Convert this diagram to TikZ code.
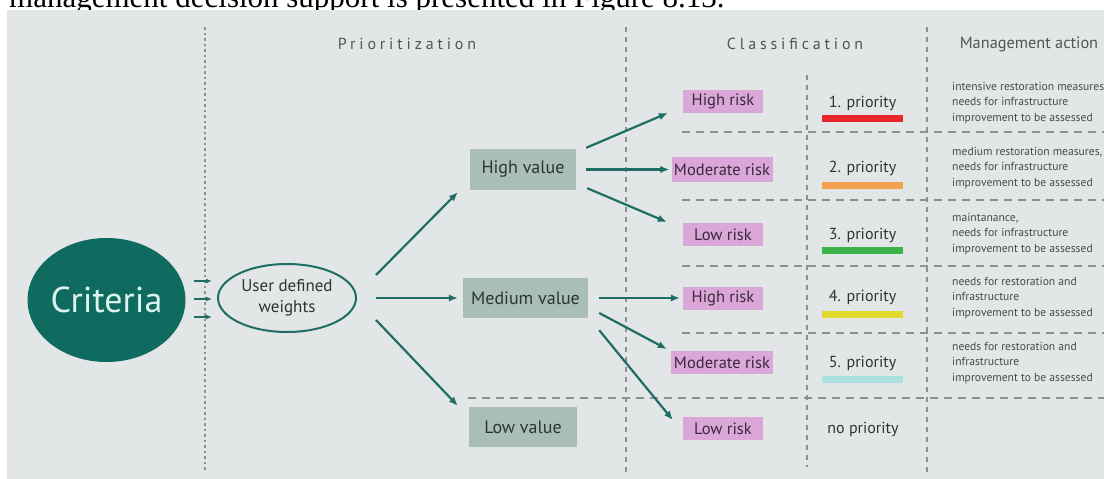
\documentclass[tikz,border=0pt]{standalone}
\usepackage{fontspec}
\setmainfont{PT Sans}
\newfontfamily\capfont{Liberation Serif}
\usetikzlibrary{arrows.meta,shapes.geometric}
\definecolor{bgc}{HTML}{E2E6E6}
\definecolor{critc}{HTML}{0F6B5F}
\definecolor{crittxt}{HTML}{DDF3EE}
\definecolor{arrc}{HTML}{1F6E66}
\definecolor{valc}{HTML}{A9BDB9}
\definecolor{pinkc}{HTML}{DBA6D8}
\definecolor{txtc}{HTML}{2E3434}
\definecolor{risktxt}{HTML}{3A2A3C}
\definecolor{acttxt}{HTML}{464A4A}
\definecolor{hdrc}{HTML}{505454}
\definecolor{dashc}{HTML}{8C9292}
\definecolor{p1c}{HTML}{E8262B}
\definecolor{p2c}{HTML}{F5A24C}
\definecolor{p3c}{HTML}{3CB44B}
\definecolor{p4c}{HTML}{E3D82E}
\definecolor{p5c}{HTML}{A9E2DF}
\tikzset{
 critnode/.style={ellipse, fill=critc, inner sep=0, minimum width=141pt, minimum height=124pt, text=crittxt, font=\fontsize{36}{40}\selectfont},
 weightnode/.style={ellipse, draw=arrc, line width=2pt, inner sep=0, minimum width=138pt, minimum height=68pt, align=center, text=txtc, font=\fontsize{17}{21}\selectfont},
 valbox/.style={fill=valc, inner sep=0, minimum height=41pt, text=txtc, font=\fontsize{18}{20}\selectfont},
 riskbox/.style={fill=pinkc, inner sep=0, minimum height=23pt, text=risktxt, font=\fontsize{16.5}{18}\selectfont},
 prio/.style={inner sep=0, text=txtc, font=\fontsize{16}{18}\selectfont},
 pbar/.style={inner sep=0, minimum width=81pt, minimum height=7pt},
 acttext/.style={inner sep=0, anchor=west, align=left, text=acttxt, font=\fontsize{11.6}{15.5}\selectfont},
 hdrtext/.style={inner sep=0, text=hdrc, font=\fontsize{16}{18}\selectfont\addfontfeature{LetterSpace=24}},
 linkarrow/.style={draw=arrc, line width=2.2pt, -{Latex[length=9pt,width=7.5pt]}},
 critarrow/.style={draw=arrc, line width=1.4pt, -{Latex[length=6pt,width=5pt]}},
 vdot/.style={draw=dashc, line width=1.3pt, dash pattern=on 2.5pt off 3pt},
 vdash/.style={draw=dashc, line width=1.3pt, dash pattern=on 5pt off 5pt},
 hdash/.style={draw=dashc, line width=1.5pt, dash pattern=on 8pt off 6pt},
}
\begin{document}
\begin{tikzpicture}[x=1pt,y=-1pt]
\useasboundingbox (0,0) rectangle (1104,479);
\clip (0,0) rectangle (1104,479);
\fill[white] (0,0) rectangle (1104,479);
\node[anchor=base west, inner sep=0, font=\capfont\fontsize{31}{34}\selectfont] (cap) at (9,7.5) {management decision support is presented in Figure 8.13.};
\fill[bgc] (7,10) rectangle (1104,479);

% column separators
\draw[vdot] (205,27) -- (205,472);
\draw[vdash] (626,27) -- (626,472);
\draw[vdash] (807,75) -- (807,467);
\draw[vdash] (927,27) -- (927,472);
% row separators
\draw[hdash] (682,132) -- (1104,132);
\draw[hdash] (682,200) -- (1104,200);
\draw[hdash] (682,266) -- (1104,266);
\draw[hdash] (682,333) -- (1104,333);
\draw[hdash] (468,398) -- (1104,398);

% headers
\node[hdrtext] (h1) at (407,44) {Prioritization};
\node[hdrtext] (h2) at (795,44) {Classification};
\node[inner sep=0, text=hdrc, font=\fontsize{16.3}{18}\selectfont] (h3) at (1029,44) {Management action};

% main nodes
\node[critnode] (cr) at (106.5,300) {Criteria};
\node[weightnode] (uw) at (287,298) {User defined\\weights};
\node[valbox, minimum width=106pt] (hv) at (523,169.5) {High value};
\node[valbox, minimum width=125pt, minimum height=40pt] (mv) at (525.5,298) {Medium value};
\node[valbox, minimum width=108pt, minimum height=40pt] (lv) at (523,427) {Low value};

\node[riskbox, minimum width=80pt] (hr1) at (723,101.5) {High risk};
\node[riskbox, minimum width=101pt, minimum height=25pt] (mr1) at (722,169.5) {Moderate risk};
\node[riskbox, minimum width=80pt] (lr1) at (723,234.5) {Low risk};
\node[riskbox, minimum width=80pt] (hr2) at (723,298) {High risk};
\node[riskbox, minimum width=102pt] (mr2) at (722,362.5) {Moderate risk};
\node[riskbox, minimum width=80pt] (lr2) at (723,428.5) {Low risk};

% priorities
\node[prio] (pr1) at (862.5,103) {1. priority};
\node[pbar, fill=p1c] (b1) at (862.5,118.5) {};
\node[prio] (pr2) at (862.5,168) {2. priority};
\node[pbar, fill=p2c] (b2) at (862.5,185) {};
\node[prio] (pr3) at (862.5,235) {3. priority};
\node[pbar, fill=p3c] (b3) at (862.5,250.5) {};
\node[prio] (pr4) at (862.5,297) {4. priority};
\node[pbar, fill=p4c] (b4) at (862.5,314.5) {};
\node[prio] (pr5) at (862.5,363) {5. priority};
\node[pbar, fill=p5c] (b5) at (862.5,379.5) {};
\node[prio] (pr6) at (863,429) {no priority};

% management actions
\node[acttext] (a1) at (952,103) {intensive restoration measures\\needs for infrastructure\\improvement to be assessed};
\node[acttext] (a2) at (952,168) {medium restoration measures,\\needs for infrastructure\\improvement to be assessed};
\node[acttext] (a3) at (952,234) {maintanance,\\needs for infrastructure\\improvement to be assessed};
\node[acttext] (a4) at (952,298) {needs for restoration and\\infrastructure\\improvement to be assessed};
\node[acttext] (a5) at (952,363) {needs for restoration and\\infrastructure\\improvement to be assessed};

% connectors
\draw[critarrow] ([xshift=8pt,yshift=19pt]cr.east) -- ([xshift=-5pt,yshift=17pt]uw.west);
\draw[critarrow] ([xshift=8pt,yshift=1pt]cr.east) -- ([xshift=-5pt,yshift=-1pt]uw.west);
\draw[critarrow] ([xshift=8pt,yshift=-17pt]cr.east) -- ([xshift=-5pt,yshift=-19pt]uw.west);

\draw[linkarrow] ([xshift=19pt,yshift=23pt]uw.east) -- ([xshift=-12pt,yshift=-2pt]hv.south west);
\draw[linkarrow] ([xshift=19pt]uw.east) -- ([xshift=-5pt]mv.west);
\draw[linkarrow] ([xshift=19pt,yshift=-22pt]uw.east) -- ([xshift=-11pt,yshift=1pt]lv.north west);

\draw[linkarrow] ([xshift=10pt,yshift=1pt]hv.north east) -- ([xshift=-15pt,yshift=-11.5pt]hr1.west);
\draw[linkarrow] ([xshift=10pt]hv.east) -- ([xshift=-2pt]mr1.west);
\draw[linkarrow] ([xshift=11pt,yshift=2pt]hv.south east) -- ([xshift=-16pt,yshift=12.5pt]lr1.west);

\draw[linkarrow] ([xshift=11pt]mv.east) -- ([xshift=-3pt]hr2.west);
\draw[linkarrow] ([xshift=11pt,yshift=-15pt]mv.east) -- ([xshift=-4pt,yshift=13.5pt]mr2.west);
\draw[linkarrow] ([xshift=11pt,yshift=-12pt]mv.south east) -- ([xshift=-10pt,yshift=8.5pt]lr2.west);
\end{tikzpicture}
\end{document}
